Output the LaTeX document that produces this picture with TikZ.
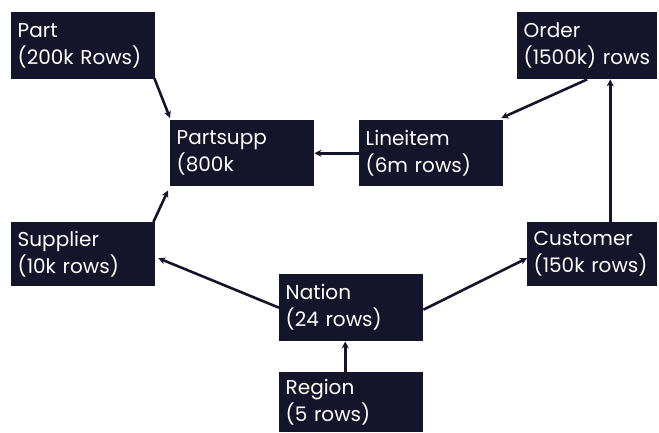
\documentclass[tikz,border=0pt]{standalone}
\usepackage{fontspec}
\setmainfont{Poppins}
\usetikzlibrary{arrows.meta,calc}
\definecolor{boxc}{HTML}{14142A}
\tikzset{
  tbl/.style={fill=boxc, text=white, anchor=north west, align=left,
    inner xsep=6.5pt, inner ysep=0pt, font=\fontsize{20}{27}\selectfont},
  link/.style={draw=boxc, line width=2.6pt, -{Stealth[length=7pt,width=7pt]}}
}
\begin{document}
\begin{tikzpicture}[x=1pt,y=-1pt]
\useasboundingbox (0,0) rectangle (659,432);
\node[tbl, text width=131pt, minimum height=67pt] (part) at (11,12) {Part\\(200k Rows)};
\node[tbl, text width=131pt, minimum height=66pt] (partsupp) at (170,120) {Partsupp\\(800k};
\node[tbl, text width=131pt, minimum height=66pt] (lineitem) at (359,120) {Lineitem\\(6m rows)};
\node[tbl, text width=127pt, minimum height=67pt] (order) at (517,12) {Order\\(1500k) rows};
\node[tbl, text width=131pt, minimum height=64pt] (supplier) at (11,222) {Supplier\\(10k rows)};
\node[tbl, text width=117pt, minimum height=64pt] (customer) at (527,222) {Customer\\(150k rows)};
\node[tbl, text width=131pt, minimum height=67pt] (nation) at (279,274) {Nation\\(24 rows)};
\node[tbl, text width=131pt, minimum height=60pt] (region) at (279,372) {Region\\(5 rows)};

\draw[link] ([xshift=-1pt,yshift=1pt]part.south east) -- ([yshift=2pt]partsupp.north west);
\draw[link] ([xshift=-2pt]supplier.north east) -- ([xshift=-2pt,yshift=-4pt]partsupp.south west);
\draw[link] (lineitem.west) -- (partsupp.east);
\draw[link] (order.south) -- ([xshift=-2pt,yshift=2pt]lineitem.north east);
\draw[link] ([xshift=18pt]customer.north) -- ([xshift=23pt]order.south);
\draw[link] (nation.west) -- ([xshift=3pt,yshift=-4pt]supplier.east);
\draw[link] ([yshift=-2pt]nation.east) -- ([yshift=-4pt]customer.west);
\draw[link] ([xshift=-6pt]region.north) -- ([xshift=-6pt]nation.south);
\end{tikzpicture}
\end{document}
